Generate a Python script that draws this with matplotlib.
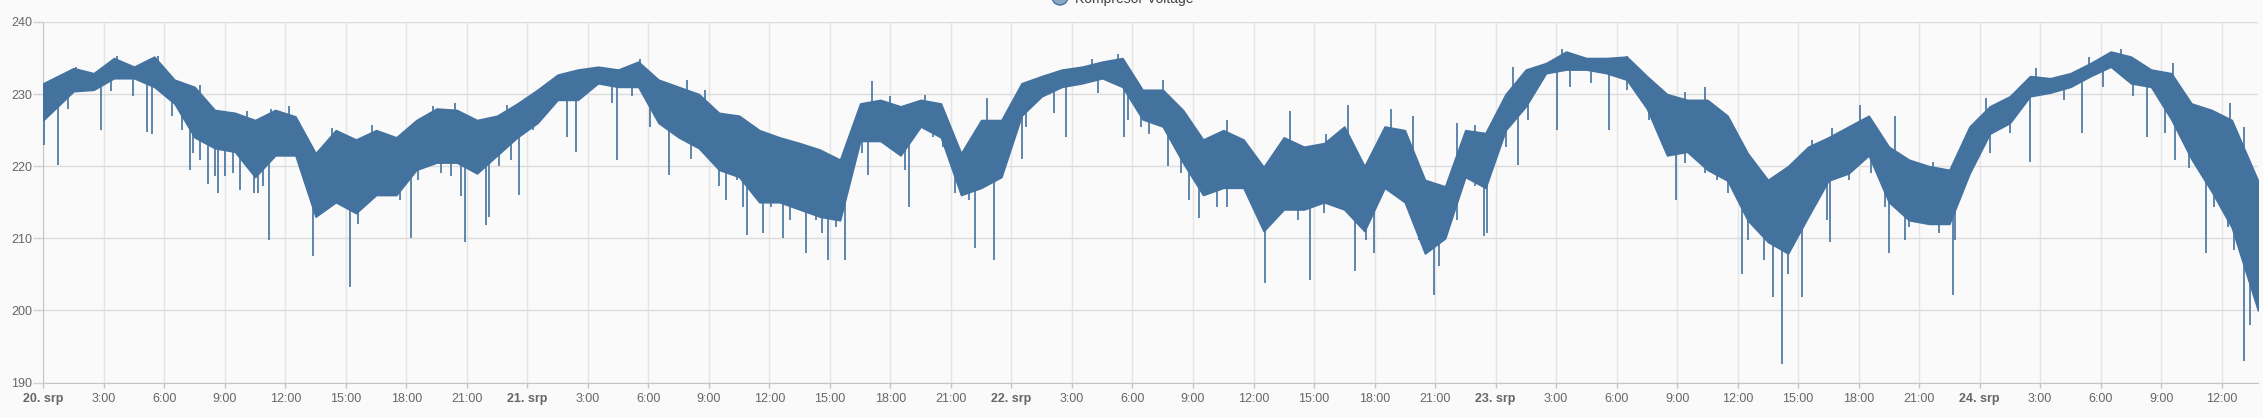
import matplotlib
matplotlib.use('Agg')
import matplotlib.pyplot as plt
from matplotlib.patches import Ellipse

# hourly core band of the voltage trace (hour 0 = 20. srp 0:00)
hi = [231.5, 233.6, 232.9, 235.0, 233.8, 235.2, 232.0, 231.0, 227.8, 227.4,
      226.4, 227.8, 226.9, 221.8, 225.0, 223.7, 225.0, 224.0, 226.4, 228.0,
      227.8, 226.4, 227.0, 228.7, 230.6, 232.7, 233.4, 233.8, 233.4, 234.5,
      232.0, 231.0, 230.0, 227.4, 227.0, 225.0, 224.0, 223.2, 222.3, 220.9,
      228.7, 229.2, 228.3, 229.2, 228.7, 221.8, 226.4, 226.4, 231.5, 232.5,
      233.4, 233.8, 234.5, 235.0, 230.6, 230.6, 227.8, 223.7, 225.0, 223.7,
      219.9, 224.0, 222.7, 223.2, 225.5, 220.0, 225.5, 225.0, 218.1, 217.2,
      225.0, 224.6, 230.0, 233.4, 234.3, 235.9, 235.0, 235.0, 235.2, 232.5,
      230.0, 229.2, 229.2, 227.0, 221.8, 218.1, 220.0, 222.7, 224.0, 225.5,
      227.0, 222.7, 220.9, 220.0, 219.5, 225.5, 228.3, 229.7, 232.5, 232.2,
      232.9, 234.3, 235.9, 235.2, 233.4, 232.9, 228.7, 227.8, 226.4, 218.0]
lo = [226.4, 230.4, 230.6, 232.2, 232.2, 231.0, 228.7, 224.0, 222.5, 222.0,
      218.5, 221.5, 221.5, 213.0, 215.0, 213.5, 216.0, 216.0, 219.5, 220.5,
      220.5, 219.0, 221.5, 224.0, 226.0, 229.2, 229.2, 231.5, 231.0, 231.0,
      226.0, 224.0, 222.5, 219.5, 218.5, 215.0, 215.0, 214.0, 213.0, 212.5,
      223.5, 223.5, 221.5, 225.5, 224.0, 216.0, 217.0, 218.5, 227.0, 229.7,
      231.0, 231.5, 232.2, 231.0, 226.5, 225.5, 220.5, 216.0, 217.0, 217.0,
      211.0, 214.0, 214.0, 215.0, 214.0, 211.0, 217.0, 215.0, 207.9, 210.0,
      218.5, 217.0, 225.0, 228.3, 232.9, 233.4, 233.4, 232.9, 232.0, 228.0,
      221.5, 222.0, 219.5, 218.0, 212.5, 209.5, 207.9, 213.0, 218.0, 219.0,
      221.5, 215.0, 212.5, 212.0, 212.0, 219.0, 224.5, 226.0, 229.7, 230.2,
      231.0, 232.5, 233.8, 231.5, 231.0, 226.5, 221.0, 216.5, 211.5, 200.0]

# downward strokes out of the band (hour, volts)
dip_t = [0.05, 0.71, 1.24, 2.87, 3.37, 4.43, 5.14, 5.38, 6.38, 6.9,
         7.26, 7.44, 7.79, 8.15, 8.5, 8.68, 9.03, 9.39, 9.74, 10.1,
         10.45, 10.63, 10.9, 11.19, 11.87, 12.57, 12.93, 13.1, 13.39, 13.8,
         14.2, 14.7, 15.23, 15.6, 16.1, 16.65, 17.2, 17.7, 18.24, 18.6,
         19.1, 19.7, 20.2, 20.7, 20.9, 21.4, 21.96, 22.1, 22.6, 23.2,
         23.56, 24.3, 24.6, 25.97, 26.39, 27.1, 28.2, 28.45, 29.2, 30.1,
         30.6, 31.0, 31.5, 32.13, 32.8, 33.3, 33.5, 33.83, 34.4, 34.7,
         34.89, 35.2, 35.67, 36.1, 36.66, 37.0, 37.4, 37.83, 38.3, 38.6,
         38.9, 39.3, 39.75, 40.6, 40.91, 41.6, 42.3, 42.7, 42.93, 44.1,
         44.6, 45.2, 45.5, 45.9, 46.19, 46.6, 47.11, 47.5, 48.53, 48.7,
         50.1, 50.69, 52.3, 53.56, 53.8, 54.4, 54.84, 55.76, 56.4, 56.8,
         57.32, 57.8, 58.2, 58.7, 59.4, 60.3, 60.58, 61.3, 62.2, 62.78,
         63.5, 64.2, 65.01, 65.6, 65.97, 66.6, 67.4, 68.2, 68.95, 69.2,
         70.1, 71.0, 71.43, 71.6, 72.5, 73.1, 73.6, 75.05, 75.7, 76.75,
         77.64, 78.5, 79.6, 80.7, 80.94, 81.4, 82.4, 82.96, 83.5, 84.2,
         84.5, 85.3, 85.76, 86.18, 86.5, 87.18, 87.5, 88.45, 88.6, 89.5,
         90.6, 91.3, 91.5, 92.28, 92.5, 93.4, 94.0, 94.66, 94.8, 95.5,
         96.5, 97.5, 98.52, 100.2, 101.08, 102.1, 103.6, 104.3, 105.2, 105.7,
         106.4, 107.2, 107.6, 108.3, 108.6, 109.13, 109.38, 109.7]
dip_v = [223.0, 220.2, 228.0, 225.0, 230.4, 229.7, 224.8, 224.5, 226.9, 225.0,
         219.5, 221.8, 220.9, 217.6, 218.6, 216.3, 218.6, 219.0, 216.7, 220.0,
         216.3, 216.3, 217.2, 209.8, 222.7, 221.8, 218.0, 217.2, 207.5, 213.9,
         214.4, 215.8, 203.3, 212.0, 215.3, 216.7, 217.2, 215.3, 210.0, 218.1,
         221.8, 219.0, 218.6, 215.8, 209.5, 219.0, 211.9, 213.0, 220.0, 220.9,
         216.0, 225.0, 227.4, 224.1, 222.0, 231.0, 228.7, 220.9, 229.7, 225.5,
         227.4, 218.8, 225.0, 221.0, 227.4, 221.8, 217.2, 215.3, 218.1, 214.4,
         210.5, 217.2, 210.7, 214.4, 210.0, 212.5, 214.4, 207.9, 212.5, 210.7,
         207.0, 211.6, 207.0, 221.8, 218.8, 224.0, 222.7, 219.5, 214.4, 224.0,
         222.7, 216.3, 217.2, 215.3, 208.6, 217.2, 207.0, 221.8, 221.0, 225.5,
         227.4, 224.0, 230.2, 224.0, 226.4, 225.5, 224.5, 220.0, 219.0, 215.3,
         212.8, 217.2, 214.4, 214.4, 217.2, 212.5, 203.8, 214.4, 212.5, 204.2,
         213.5, 215.3, 205.5, 209.8, 208.0, 218.1, 215.3, 209.8, 202.1, 206.1,
         212.5, 217.2, 210.3, 210.7, 222.7, 220.2, 226.4, 225.0, 231.0, 231.5,
         225.0, 230.6, 226.4, 221.8, 215.3, 220.4, 219.0, 218.1, 216.3, 205.1,
         209.8, 207.0, 201.9, 192.6, 205.1, 201.9, 213.5, 212.5, 209.5, 218.1,
         219.0, 214.4, 207.9, 209.8, 211.6, 212.5, 210.7, 202.1, 209.8, 219.9,
         221.8, 224.6, 220.6, 229.2, 224.6, 231.0, 229.7, 224.0, 224.6, 220.9,
         219.8, 207.9, 214.4, 211.6, 208.4, 193.0, 198.0, 206.0]

# upward strokes out of the band (hour, volts)
peak_t = [1.6, 3.65, 5.67, 7.79, 10.1, 11.3, 12.2, 14.3, 16.3, 19.3,
          20.4, 23.0, 26.4, 29.6, 31.9, 32.8, 34.4, 35.2, 41.1, 42.0,
          43.7, 46.8, 52.0, 53.3, 55.5, 58.7, 61.8, 63.6, 64.7, 66.8,
          67.9, 70.1, 71.0, 72.85, 75.3, 78.5, 81.4, 82.4, 87.7, 88.7,
          90.05, 91.8, 93.7, 96.3, 98.8, 101.4, 103.0, 105.6, 107.4, 108.4,
          109.1, 109.7]
peak_v = [233.8, 235.3, 235.3, 231.3, 227.6, 227.9, 228.3, 225.3, 225.7, 228.3,
          228.7, 228.5, 233.4, 234.8, 232.0, 230.6, 227.1, 225.3, 231.8, 229.7,
          229.9, 229.4, 234.8, 235.5, 232.0, 226.4, 227.6, 224.4, 228.5, 228.0,
          226.9, 226.0, 225.7, 233.8, 236.2, 235.3, 230.3, 231.0, 223.7, 225.3,
          228.5, 226.9, 220.6, 229.4, 233.6, 235.2, 236.2, 234.3, 227.4, 228.7,
          225.5, 217.2]

day_labels = ['20. srp', '21. srp', '22. srp', '23. srp', '24. srp']
yticks = [190, 200, 210, 220, 230, 240]

line_c = '#44729e'

plt.rcParams['font.family'] = ['Liberation Sans', 'DejaVu Sans']

W, H = 2263, 417
fig = plt.figure(figsize=(W / 100, H / 100), dpi=100, facecolor='#fafafa')
ax = fig.add_axes([43.3 / W, 1 - 382.5 / H, (2258 - 43.3) / W, (382.5 - 22) / H])
ax.set_facecolor('#fafafa')

# dense core of the noisy trace, one reading per hour (centred in the hour)
hours = [h + 0.5 for h in range(len(hi))]
hours[0] = 0.0
hours[-1] = 109.8
ax.fill_between(hours, lo, hi, color=line_c, lw=1.2, ec=line_c, zorder=3)


def band_mid(s):
    i = min(max(int(round(s - 0.5)), 0), len(hi) - 1)
    return (hi[i] + lo[i]) / 2


# strokes leaving the core band
ax.vlines(dip_t, [band_mid(s) for s in dip_t], dip_v, color=line_c, lw=1.2, zorder=3)
ax.vlines(peak_t, [band_mid(s) for s in peak_t], peak_v, color=line_c, lw=1.2, zorder=3)

ax.set_xlim(0, 109.8)
ax.set_ylim(190, 240)
ax.set_yticks(yticks)
ax.set_yticklabels([str(y) for y in yticks])

xt = list(range(0, 109, 3))
xl = [day_labels[h // 24] if h % 24 == 0 else f'{h % 24}:00' for h in xt]
ax.set_xticks(xt)
ax.set_xticklabels(xl)
for lab, h in zip(ax.get_xticklabels(), xt):
    if h % 24 == 0:
        lab.set_fontweight('bold')
        lab.set_color('#555555')

ax.grid(axis='y', color='#dcdcdc', lw=1)
ax.grid(axis='x', color='#e4e4e4', lw=1)
ax.set_axisbelow(True)

for s in ['top', 'right']:
    ax.spines[s].set_visible(False)
ax.spines['bottom'].set_color('#c4c4c4')
ax.spines['left'].set_color('#c4c4c4')

ax.tick_params(axis='y', length=7.2, width=1, color='#d0d0d0', pad=0.8,
               labelsize=9, labelcolor='#666666')
ax.tick_params(axis='x', length=3.6, width=1, color='#c4c4c4', pad=4,
               labelsize=9, labelcolor='#666666')

# legend, mostly cut off at the top edge (as in the reference)
fig.add_artist(Ellipse((1060 / W, 1 + 3 / H), 16 / W, 16 / H,
                       transform=fig.transFigure, fc='#8ba6c6', ec=line_c, lw=1))
fig.text(1075 / W, 1 - 2.5 / H, 'Kompresor Voltage', fontsize=10,
         color='#444444', va='baseline', ha='left')

fig.savefig('out.png', dpi=100, facecolor=fig.get_facecolor())
